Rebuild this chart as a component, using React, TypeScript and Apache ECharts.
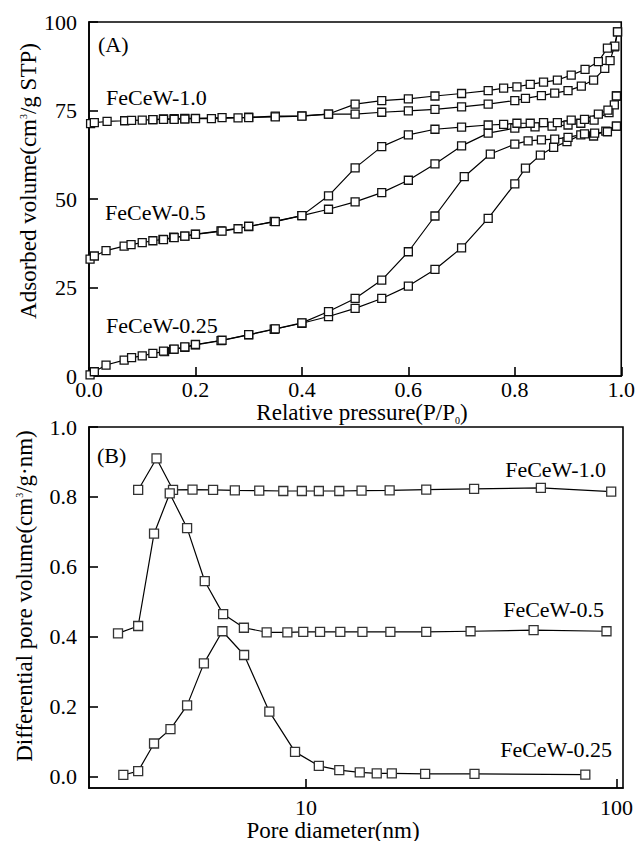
import React, { useEffect, useRef } from 'react';
import * as echarts from 'echarts';

// ---------- Panel A: N2 isotherms ----------
const pressureTicks = [0, 0.2, 0.4, 0.6, 0.8, 1.0];
const volumeTicks = [0, 25, 50, 75, 100];

const ads10P = [0.003, 0.01, 0.034, 0.067, 0.08, 0.1, 0.12, 0.14, 0.16, 0.18, 0.2, 0.25, 0.3, 0.35, 0.4, 0.45, 0.5, 0.55, 0.6, 0.65, 0.7, 0.75, 0.8, 0.82, 0.85, 0.875, 0.9, 0.925, 0.948, 0.969, 0.979, 0.987, 0.993];
const ads10V = [71.3, 71.6, 71.9, 72.1, 72.2, 72.3, 72.4, 72.6, 72.7, 72.8, 72.8, 73.0, 73.1, 73.4, 73.5, 74.0, 74.0, 74.5, 74.9, 75.3, 76.0, 76.8, 77.8, 78.4, 79.2, 79.9, 80.6, 81.9, 83.6, 86.9, 89.1, 93.0, 97.2];
const des10P = [0.993, 0.988, 0.974, 0.957, 0.932, 0.906, 0.88, 0.854, 0.829, 0.804, 0.779, 0.75, 0.7, 0.65, 0.6, 0.55, 0.5, 0.45, 0.4, 0.35, 0.3, 0.28, 0.23, 0.2, 0.18, 0.16, 0.14, 0.12];
const des10V = [97.2, 93.2, 92.6, 88.8, 86.6, 85.0, 83.6, 83.0, 82.4, 81.7, 81.3, 80.6, 79.8, 79.1, 78.3, 77.8, 76.8, 74.0, 73.4, 73.2, 73.0, 72.9, 72.7, 72.7, 72.6, 72.5, 72.5, 72.4];

const ads05P = [0.002, 0.01, 0.032, 0.066, 0.079, 0.1, 0.12, 0.139, 0.159, 0.18, 0.2, 0.248, 0.3, 0.348, 0.4, 0.45, 0.5, 0.55, 0.6, 0.65, 0.7, 0.75, 0.8, 0.838, 0.87, 0.9, 0.924, 0.949, 0.977, 0.991];
const ads05V = [33.0, 33.9, 35.4, 36.7, 37.1, 37.7, 38.2, 38.6, 39.2, 39.5, 40.1, 41.0, 42.2, 43.7, 45.3, 47.1, 49.2, 51.8, 55.3, 59.9, 65.0, 68.6, 70.0, 70.4, 70.6, 70.9, 71.4, 72.3, 74.4, 79.1];
const des05P = [0.991, 0.987, 0.975, 0.957, 0.931, 0.906, 0.88, 0.854, 0.829, 0.804, 0.779, 0.75, 0.7, 0.65, 0.6, 0.55, 0.5, 0.45, 0.4, 0.35, 0.3, 0.28, 0.25, 0.2, 0.18, 0.16, 0.14];
const des05V = [79.1, 76.6, 75.1, 74.0, 72.5, 72.3, 71.6, 71.6, 71.4, 71.4, 71.1, 70.9, 70.3, 69.7, 68.1, 64.8, 58.8, 50.9, 45.3, 43.6, 42.3, 41.6, 40.9, 40.0, 39.5, 39.1, 38.5];

const ads025P = [0.002, 0.01, 0.032, 0.066, 0.08, 0.1, 0.12, 0.142, 0.159, 0.18, 0.2, 0.248, 0.3, 0.348, 0.4, 0.45, 0.5, 0.55, 0.6, 0.65, 0.7, 0.75, 0.8, 0.82, 0.848, 0.873, 0.898, 0.924, 0.948, 0.971, 0.991];
const ads025V = [0.3, 1.2, 3.1, 4.5, 5.2, 5.7, 6.4, 6.9, 7.5, 8.1, 8.8, 10.0, 11.6, 13.2, 14.9, 16.8, 19.1, 21.9, 25.4, 30.1, 36.2, 44.5, 54.3, 58.7, 62.4, 64.6, 66.2, 68.1, 67.8, 69.2, 70.6];
const des025P = [0.991, 0.974, 0.95, 0.931, 0.9, 0.875, 0.85, 0.825, 0.8, 0.754, 0.705, 0.65, 0.6, 0.55, 0.5, 0.45, 0.4, 0.35, 0.3, 0.25, 0.2, 0.18, 0.16, 0.14];
const des025V = [70.6, 69.0, 68.6, 68.4, 67.4, 66.9, 66.7, 66.4, 65.5, 62.7, 56.3, 45.2, 35.1, 27.1, 21.9, 18.2, 15.0, 13.3, 11.7, 10.1, 8.9, 8.2, 7.6, 7.0];

// ---------- Panel B: pore size distribution ----------
const poreTicks = [10, 100];
const dvTicks = [0, 0.2, 0.4, 0.6, 0.8, 1.0];

const psd10D = [2.88, 3.30, 3.73, 4.31, 5.02, 5.90, 7.07, 8.45, 9.7, 11.0, 12.8, 15.1, 18.6, 24.4, 34.8, 57.1, 96.2];
const psd10V = [0.82, 0.91, 0.82, 0.821, 0.82, 0.819, 0.818, 0.817, 0.817, 0.817, 0.817, 0.818, 0.819, 0.821, 0.823, 0.826, 0.815];

const psd05D = [2.48, 2.88, 3.24, 3.64, 4.14, 4.72, 5.41, 6.31, 7.47, 8.71, 9.8, 11.1, 12.9, 15.2, 18.7, 24.4, 33.9, 54.1, 92.9];
const psd05V = [0.41, 0.431, 0.695, 0.81, 0.711, 0.559, 0.465, 0.426, 0.413, 0.413, 0.414, 0.414, 0.414, 0.414, 0.414, 0.414, 0.416, 0.419, 0.416];

const psd025D = [2.58, 2.88, 3.24, 3.66, 4.14, 4.69, 5.38, 6.32, 7.62, 9.22, 11.0, 12.8, 14.9, 16.9, 18.9, 24.2, 34.9, 79.4];
const psd025V = [0.005, 0.016, 0.095, 0.136, 0.204, 0.324, 0.416, 0.348, 0.186, 0.071, 0.031, 0.019, 0.0125, 0.0095, 0.0095, 0.008, 0.008, 0.006];

const SERIF = 'Liberation Serif';

const zip = (xs: number[], ys: number[]) => xs.map((x, i) => [x, ys[i]]);

function lineSeries(name: string, xs: number[], ys: number[], panel: number, size: number) {
  return {
    name,
    type: 'line',
    xAxisIndex: panel,
    yAxisIndex: panel,
    data: zip(xs, ys),
    symbol: 'rect',
    symbolSize: size,
    showAllSymbol: true,
    itemStyle: { color: '#fff', borderColor: panel === 0 ? '#111' : '#333', borderWidth: 1.3 },
    lineStyle: { color: '#000', width: 1.2 },
    emphasis: { disabled: true },
    z: 3,
  };
}

const axisLineStyle = { color: '#000', width: 1.6 };
const labelStyle = { color: '#000', fontSize: 22, fontFamily: SERIF };

function txt(text: string, x: number, y: number, align: string, size = 22) {
  return {
    type: 'text',
    x,
    y,
    style: { text, font: `${size}px ${SERIF}`, fill: '#000', align, verticalAlign: 'middle', lineHeight: 20 },
  };
}

// y-axis names: main text bottom-aligned, superscript raised
const richSup = {
  n: { fontSize: 23, fontFamily: SERIF, lineHeight: 22, verticalAlign: 'bottom', fill: '#000' },
  sup: { fontSize: 10, fontFamily: SERIF, lineHeight: 10, verticalAlign: 'top', padding: [0, 0, 21, 0], fill: '#000' },
};
// x-axis names: main text top-aligned, subscript lowered
const richSub = {
  n: { fontSize: 23, fontFamily: SERIF, lineHeight: 22, verticalAlign: 'top', fill: '#000' },
  sub: { fontSize: 10, fontFamily: SERIF, lineHeight: 10, verticalAlign: 'top', padding: [14, 0, 0, 0], fill: '#000' },
};

function richText(text: string, x: number, y: number, rotation: number, rich: any) {
  return {
    type: 'text',
    x,
    y,
    rotation,
    style: {
      text,
      font: `23px ${SERIF}`,
      fill: '#000',
      align: 'center',
      verticalAlign: 'middle',
      rich,
    },
  };
}

export default function App() {
  const ref = useRef<HTMLDivElement>(null);
  useEffect(() => {
    document.body.style.margin = '0';
    if (!ref.current) return;
    const chart = echarts.init(ref.current, undefined, { renderer: 'svg' });
    chart.setOption({
      animation: false,
      backgroundColor: '#fff',
      grid: [
        { left: 89, top: 22, width: 534, height: 354, show: true, borderColor: '#000', borderWidth: 1.6, backgroundColor: 'transparent' },
        { left: 89, top: 427, width: 534, height: 361, show: true, borderColor: '#000', borderWidth: 1.6, backgroundColor: 'transparent' },
      ],
      xAxis: [
        {
          gridIndex: 0,
          type: 'value',
          min: pressureTicks[0],
          max: pressureTicks[pressureTicks.length - 1],
          interval: 0.2,
          axisLine: { onZero: false, lineStyle: axisLineStyle },
          axisTick: { inside: true, length: 9, lineStyle: axisLineStyle },
          axisLabel: { ...labelStyle, margin: 2, showMinLabel: true, showMaxLabel: true, formatter: (v: number) => v.toFixed(1) },
          splitLine: { show: false },
        },
        {
          gridIndex: 1,
          type: 'log',
          logBase: 10,
          min: 2.0,
          max: 105,
          axisLine: { onZero: false, lineStyle: axisLineStyle },
          axisTick: { inside: true, length: 9, lineStyle: axisLineStyle, customValues: poreTicks },
          axisLabel: { ...labelStyle, margin: 8, customValues: poreTicks, formatter: (v: number) => String(Math.round(v)) },
          minorTick: { show: false },
          splitLine: { show: false },
        },
      ],
      yAxis: [
        {
          gridIndex: 0,
          type: 'value',
          min: volumeTicks[0],
          max: volumeTicks[volumeTicks.length - 1],
          interval: 25,
          axisLine: { onZero: false, lineStyle: axisLineStyle },
          axisTick: { inside: true, length: 9, lineStyle: axisLineStyle },
          axisLabel: { ...labelStyle, margin: 12, showMinLabel: true, showMaxLabel: true },
          splitLine: { show: false },
        },
        {
          gridIndex: 1,
          type: 'value',
          min: -0.0323,
          max: 1.0,
          axisLine: { onZero: false, lineStyle: axisLineStyle },
          axisTick: { inside: true, length: 9, lineStyle: axisLineStyle, customValues: dvTicks },
          axisLabel: { ...labelStyle, margin: 12, customValues: dvTicks, formatter: (v: number) => v.toFixed(1) },
          splitLine: { show: false },
        },
      ],
      series: [
        lineSeries('FeCeW-1.0 ads', ads10P, ads10V, 0, 8),
        lineSeries('FeCeW-1.0 des', des10P, des10V, 0, 8),
        lineSeries('FeCeW-0.5 ads', ads05P, ads05V, 0, 8),
        lineSeries('FeCeW-0.5 des', des05P, des05V, 0, 8),
        lineSeries('FeCeW-0.25 ads', ads025P, ads025V, 0, 8),
        lineSeries('FeCeW-0.25 des', des025P, des025V, 0, 8),
        lineSeries('FeCeW-1.0 PSD', psd10D, psd10V, 1, 9),
        lineSeries('FeCeW-0.5 PSD', psd05D, psd05V, 1, 9),
        lineSeries('FeCeW-0.25 PSD', psd025D, psd025V, 1, 9),
      ],
      graphic: [
        txt('(A)', 98, 44, 'left'),
        txt('FeCeW-1.0', 106, 97, 'left'),
        txt('FeCeW-0.5', 105, 212, 'left'),
        txt('FeCeW-0.25', 106, 325, 'left'),
        txt('(B)', 97, 455, 'left'),
        txt('FeCeW-1.0', 606, 469, 'right'),
        txt('FeCeW-0.5', 604, 609, 'right'),
        txt('FeCeW-0.25', 612, 749, 'right'),
        richText('{n|Adsorbed volume(cm}{sup|3}{n|/g STP)}', 29, 181, Math.PI / 2, richSup),
        richText('{n|Differential pore volume(cm}{sup|3}{n|/g·nm)}', 25, 596, Math.PI / 2, richSup),
        richText('{n|Relative pressure(P/P}{sub|0}{n|)}', 362, 412, 0, richSub),
        txt('Pore diameter(nm)', 333, 830, 'center', 23),
      ],
    });
    return () => chart.dispose();
  }, []);
  return <div ref={ref} style={{ width: 638, height: 841 }} />;
}
